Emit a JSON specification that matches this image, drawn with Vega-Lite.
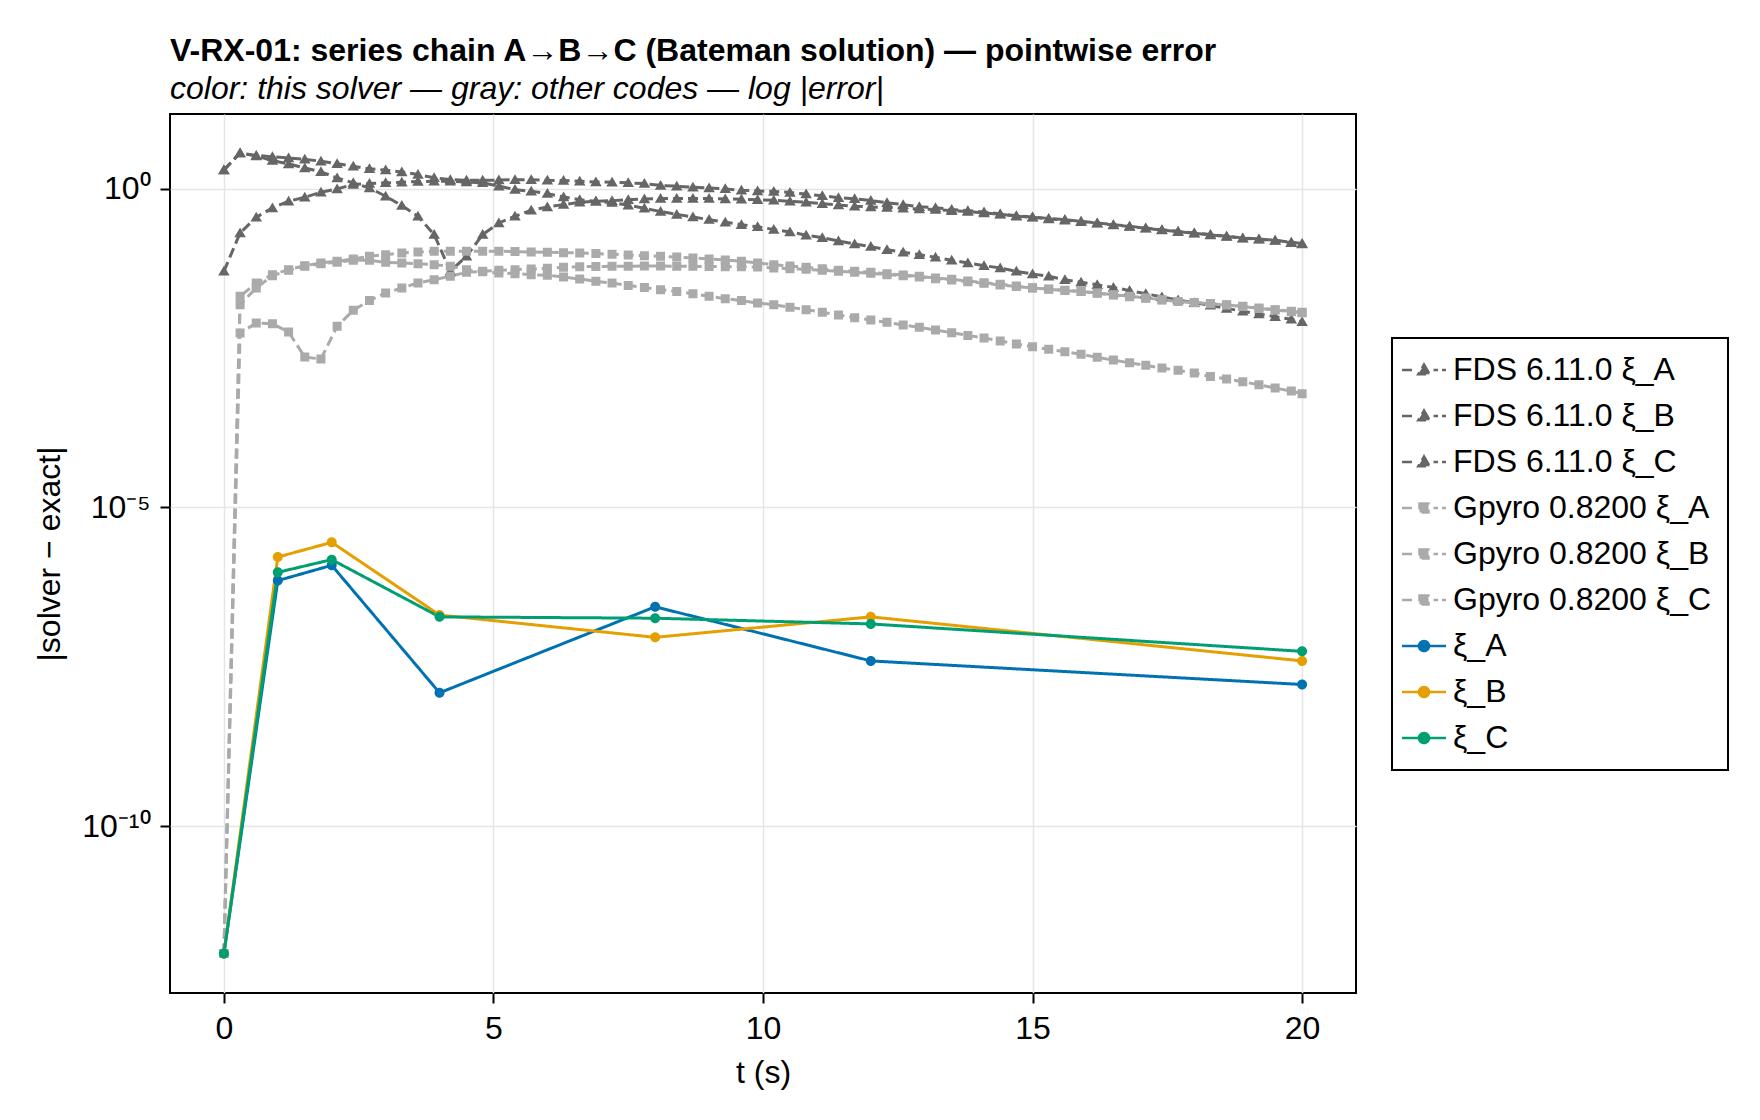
{
  "$schema": "https://vega.github.io/schema/vega-lite/v6.json",
  "width": 1186,
  "height": 879,
  "autosize": {"type": "none"},
  "padding": {"left": 170, "top": 114, "right": 404, "bottom": 127},
  "background": "white",
  "config": {
    "font": "Liberation Sans",
    "view": {"stroke": "black", "strokeWidth": 2},
    "axis": {
      "labelFont": "Liberation Sans", "labelFontSize": 32, "labelColor": "black",
      "titleFont": "Liberation Sans", "titleFontSize": 32, "titleFontWeight": "normal", "titleColor": "black",
      "domain": false, "tickColor": "black", "tickWidth": 2, "tickSize": 10,
      "gridColor": "#e5e5e5", "gridWidth": 1.5, "labelPadding": 10
    },
    "legend": {"strokeWidth": 2}
  },
  "title": {
    "text": "V-RX-01: series chain A→B→C (Bateman solution) — pointwise error",
    "subtitle": "color: this solver — gray: other codes — log |error|",
    "anchor": "start", "frame": "group",
    "font": "Liberation Sans", "fontSize": 32, "fontWeight": "bold", "color": "black",
    "subtitleFont": "Liberation Sans", "subtitleFontSize": 32, "subtitleFontStyle": "italic", "subtitleColor": "black",
    "subtitlePadding": 6, "offset": 8
  },
  "datasets": {
    "others": [
      {"series":"FDS 6.11.0 ξ_A","t":0,"err":1.95},{"series":"FDS 6.11.0 ξ_A","t":0.3,"err":3.63},{"series":"FDS 6.11.0 ξ_A","t":0.6,"err":3.31},{"series":"FDS 6.11.0 ξ_A","t":0.9,"err":3.16},{"series":"FDS 6.11.0 ξ_A","t":1.2,"err":3.02},{"series":"FDS 6.11.0 ξ_A","t":1.5,"err":2.88},{"series":"FDS 6.11.0 ξ_A","t":1.8,"err":2.69},{"series":"FDS 6.11.0 ξ_A","t":2.1,"err":2.45},{"series":"FDS 6.11.0 ξ_A","t":2.4,"err":2.24},{"series":"FDS 6.11.0 ξ_A","t":2.7,"err":2.04},
      {"series":"FDS 6.11.0 ξ_A","t":3,"err":1.95},{"series":"FDS 6.11.0 ξ_A","t":3.3,"err":1.82},{"series":"FDS 6.11.0 ξ_A","t":3.6,"err":1.66},{"series":"FDS 6.11.0 ξ_A","t":3.9,"err":1.48},{"series":"FDS 6.11.0 ξ_A","t":4.2,"err":1.38},{"series":"FDS 6.11.0 ξ_A","t":4.5,"err":1.35},{"series":"FDS 6.11.0 ξ_A","t":4.8,"err":1.35},{"series":"FDS 6.11.0 ξ_A","t":5.1,"err":1.36},{"series":"FDS 6.11.0 ξ_A","t":5.4,"err":1.38},{"series":"FDS 6.11.0 ξ_A","t":5.7,"err":1.38},
      {"series":"FDS 6.11.0 ξ_A","t":6,"err":1.35},{"series":"FDS 6.11.0 ξ_A","t":6.3,"err":1.34},{"series":"FDS 6.11.0 ξ_A","t":6.6,"err":1.30},{"series":"FDS 6.11.0 ξ_A","t":6.9,"err":1.27},{"series":"FDS 6.11.0 ξ_A","t":7.2,"err":1.26},{"series":"FDS 6.11.0 ξ_A","t":7.5,"err":1.23},{"series":"FDS 6.11.0 ξ_A","t":7.8,"err":1.20},{"series":"FDS 6.11.0 ξ_A","t":8.1,"err":1.12},{"series":"FDS 6.11.0 ξ_A","t":8.4,"err":1.09},{"series":"FDS 6.11.0 ξ_A","t":8.7,"err":1.05},
      {"series":"FDS 6.11.0 ξ_A","t":9,"err":1.02},{"series":"FDS 6.11.0 ξ_A","t":9.3,"err":0.99},{"series":"FDS 6.11.0 ξ_A","t":9.6,"err":0.94},{"series":"FDS 6.11.0 ξ_A","t":9.9,"err":0.92},{"series":"FDS 6.11.0 ξ_A","t":10.2,"err":0.90},{"series":"FDS 6.11.0 ξ_A","t":10.5,"err":0.87},{"series":"FDS 6.11.0 ξ_A","t":10.8,"err":0.82},{"series":"FDS 6.11.0 ξ_A","t":11.1,"err":0.77},{"series":"FDS 6.11.0 ξ_A","t":11.4,"err":0.72},{"series":"FDS 6.11.0 ξ_A","t":11.7,"err":0.69},
      {"series":"FDS 6.11.0 ξ_A","t":12,"err":0.65},{"series":"FDS 6.11.0 ξ_A","t":12.3,"err":0.60},{"series":"FDS 6.11.0 ξ_A","t":12.6,"err":0.56},{"series":"FDS 6.11.0 ξ_A","t":12.9,"err":0.52},{"series":"FDS 6.11.0 ξ_A","t":13.2,"err":0.50},{"series":"FDS 6.11.0 ξ_A","t":13.5,"err":0.47},{"series":"FDS 6.11.0 ξ_A","t":13.8,"err":0.45},{"series":"FDS 6.11.0 ξ_A","t":14.1,"err":0.43},{"series":"FDS 6.11.0 ξ_A","t":14.4,"err":0.40},{"series":"FDS 6.11.0 ξ_A","t":14.7,"err":0.376},
      {"series":"FDS 6.11.0 ξ_A","t":15,"err":0.36},{"series":"FDS 6.11.0 ξ_A","t":15.3,"err":0.34},{"series":"FDS 6.11.0 ξ_A","t":15.6,"err":0.326},{"series":"FDS 6.11.0 ξ_A","t":15.9,"err":0.307},{"series":"FDS 6.11.0 ξ_A","t":16.2,"err":0.289},{"series":"FDS 6.11.0 ξ_A","t":16.5,"err":0.272},{"series":"FDS 6.11.0 ξ_A","t":16.8,"err":0.256},{"series":"FDS 6.11.0 ξ_A","t":17.1,"err":0.241},{"series":"FDS 6.11.0 ξ_A","t":17.4,"err":0.227},{"series":"FDS 6.11.0 ξ_A","t":17.7,"err":0.214},
      {"series":"FDS 6.11.0 ξ_A","t":18,"err":0.201},{"series":"FDS 6.11.0 ξ_A","t":18.3,"err":0.190},{"series":"FDS 6.11.0 ξ_A","t":18.6,"err":0.179},{"series":"FDS 6.11.0 ξ_A","t":18.9,"err":0.168},{"series":"FDS 6.11.0 ξ_A","t":19.2,"err":0.162},{"series":"FDS 6.11.0 ξ_A","t":19.5,"err":0.155},{"series":"FDS 6.11.0 ξ_A","t":19.8,"err":0.144},{"series":"FDS 6.11.0 ξ_A","t":20,"err":0.137},

      {"series":"FDS 6.11.0 ξ_B","t":0,"err":1.95},{"series":"FDS 6.11.0 ξ_B","t":0.3,"err":3.63},{"series":"FDS 6.11.0 ξ_B","t":0.6,"err":3.24},{"series":"FDS 6.11.0 ξ_B","t":0.9,"err":2.75},{"series":"FDS 6.11.0 ξ_B","t":1.2,"err":2.44},{"series":"FDS 6.11.0 ξ_B","t":1.5,"err":2.11},{"series":"FDS 6.11.0 ξ_B","t":1.8,"err":1.83},{"series":"FDS 6.11.0 ξ_B","t":2.1,"err":1.47},{"series":"FDS 6.11.0 ξ_B","t":2.4,"err":1.23},{"series":"FDS 6.11.0 ξ_B","t":2.7,"err":1.02},
      {"series":"FDS 6.11.0 ξ_B","t":3,"err":0.76},{"series":"FDS 6.11.0 ξ_B","t":3.3,"err":0.541},{"series":"FDS 6.11.0 ξ_B","t":3.6,"err":0.368},{"series":"FDS 6.11.0 ξ_B","t":3.9,"err":0.190},{"series":"FDS 6.11.0 ξ_B","t":4.2,"err":0.0504},{"series":"FDS 6.11.0 ξ_B","t":4.5,"err":0.0871},{"series":"FDS 6.11.0 ξ_B","t":4.8,"err":0.190},{"series":"FDS 6.11.0 ξ_B","t":5.1,"err":0.289},{"series":"FDS 6.11.0 ξ_B","t":5.4,"err":0.368},{"series":"FDS 6.11.0 ξ_B","t":5.7,"err":0.457},
      {"series":"FDS 6.11.0 ξ_B","t":6,"err":0.515},{"series":"FDS 6.11.0 ξ_B","t":6.3,"err":0.561},{"series":"FDS 6.11.0 ξ_B","t":6.6,"err":0.610},{"series":"FDS 6.11.0 ξ_B","t":6.9,"err":0.632},{"series":"FDS 6.11.0 ξ_B","t":7.2,"err":0.646},{"series":"FDS 6.11.0 ξ_B","t":7.5,"err":0.671},{"series":"FDS 6.11.0 ξ_B","t":7.8,"err":0.689},{"series":"FDS 6.11.0 ξ_B","t":8.1,"err":0.697},{"series":"FDS 6.11.0 ξ_B","t":8.4,"err":0.697},{"series":"FDS 6.11.0 ξ_B","t":8.7,"err":0.697},
      {"series":"FDS 6.11.0 ξ_B","t":9,"err":0.697},{"series":"FDS 6.11.0 ξ_B","t":9.3,"err":0.689},{"series":"FDS 6.11.0 ξ_B","t":9.6,"err":0.679},{"series":"FDS 6.11.0 ξ_B","t":9.9,"err":0.668},{"series":"FDS 6.11.0 ξ_B","t":10.2,"err":0.656},{"series":"FDS 6.11.0 ξ_B","t":10.5,"err":0.632},{"series":"FDS 6.11.0 ξ_B","t":10.8,"err":0.610},{"series":"FDS 6.11.0 ξ_B","t":11.1,"err":0.581},{"series":"FDS 6.11.0 ξ_B","t":11.4,"err":0.555},{"series":"FDS 6.11.0 ξ_B","t":11.7,"err":0.528},
      {"series":"FDS 6.11.0 ξ_B","t":12,"err":0.515},{"series":"FDS 6.11.0 ξ_B","t":12.3,"err":0.504},{"series":"FDS 6.11.0 ξ_B","t":12.6,"err":0.491},{"series":"FDS 6.11.0 ξ_B","t":12.9,"err":0.480},{"series":"FDS 6.11.0 ξ_B","t":13.2,"err":0.468},{"series":"FDS 6.11.0 ξ_B","t":13.5,"err":0.451},{"series":"FDS 6.11.0 ξ_B","t":13.8,"err":0.436},{"series":"FDS 6.11.0 ξ_B","t":14.1,"err":0.415},{"series":"FDS 6.11.0 ξ_B","t":14.4,"err":0.395},{"series":"FDS 6.11.0 ξ_B","t":14.7,"err":0.368},
      {"series":"FDS 6.11.0 ξ_B","t":15,"err":0.355},{"series":"FDS 6.11.0 ξ_B","t":15.3,"err":0.334},{"series":"FDS 6.11.0 ξ_B","t":15.6,"err":0.320},{"series":"FDS 6.11.0 ξ_B","t":15.9,"err":0.302},{"series":"FDS 6.11.0 ξ_B","t":16.2,"err":0.285},{"series":"FDS 6.11.0 ξ_B","t":16.5,"err":0.269},{"series":"FDS 6.11.0 ξ_B","t":16.8,"err":0.254},{"series":"FDS 6.11.0 ξ_B","t":17.1,"err":0.238},{"series":"FDS 6.11.0 ξ_B","t":17.4,"err":0.224},{"series":"FDS 6.11.0 ξ_B","t":17.7,"err":0.211},
      {"series":"FDS 6.11.0 ξ_B","t":18,"err":0.200},{"series":"FDS 6.11.0 ξ_B","t":18.3,"err":0.187},{"series":"FDS 6.11.0 ξ_B","t":18.6,"err":0.177},{"series":"FDS 6.11.0 ξ_B","t":18.9,"err":0.166},{"series":"FDS 6.11.0 ξ_B","t":19.2,"err":0.160},{"series":"FDS 6.11.0 ξ_B","t":19.5,"err":0.153},{"series":"FDS 6.11.0 ξ_B","t":19.8,"err":0.142},{"series":"FDS 6.11.0 ξ_B","t":20,"err":0.135},

      {"series":"FDS 6.11.0 ξ_C","t":0,"err":0.0504},{"series":"FDS 6.11.0 ξ_C","t":0.3,"err":0.201},{"series":"FDS 6.11.0 ξ_C","t":0.6,"err":0.355},{"series":"FDS 6.11.0 ξ_C","t":0.9,"err":0.497},{"series":"FDS 6.11.0 ξ_C","t":1.2,"err":0.632},{"series":"FDS 6.11.0 ξ_C","t":1.5,"err":0.731},{"series":"FDS 6.11.0 ξ_C","t":1.8,"err":0.875},{"series":"FDS 6.11.0 ξ_C","t":2.1,"err":0.989},{"series":"FDS 6.11.0 ξ_C","t":2.4,"err":1.156},{"series":"FDS 6.11.0 ξ_C","t":2.7,"err":1.20},
      {"series":"FDS 6.11.0 ξ_C","t":3,"err":1.23},{"series":"FDS 6.11.0 ξ_C","t":3.3,"err":1.26},{"series":"FDS 6.11.0 ξ_C","t":3.6,"err":1.29},{"series":"FDS 6.11.0 ξ_C","t":3.9,"err":1.30},{"series":"FDS 6.11.0 ξ_C","t":4.2,"err":1.30},{"series":"FDS 6.11.0 ξ_C","t":4.5,"err":1.27},{"series":"FDS 6.11.0 ξ_C","t":4.8,"err":1.23},{"series":"FDS 6.11.0 ξ_C","t":5.1,"err":1.09},{"series":"FDS 6.11.0 ξ_C","t":5.4,"err":0.964},{"series":"FDS 6.11.0 ξ_C","t":5.7,"err":0.908},
      {"series":"FDS 6.11.0 ξ_C","t":6,"err":0.834},{"series":"FDS 6.11.0 ξ_C","t":6.3,"err":0.740},{"series":"FDS 6.11.0 ξ_C","t":6.6,"err":0.671},{"series":"FDS 6.11.0 ξ_C","t":6.9,"err":0.632},{"series":"FDS 6.11.0 ξ_C","t":7.2,"err":0.603},{"series":"FDS 6.11.0 ξ_C","t":7.5,"err":0.550},{"series":"FDS 6.11.0 ξ_C","t":7.8,"err":0.490},{"series":"FDS 6.11.0 ξ_C","t":8.1,"err":0.437},{"series":"FDS 6.11.0 ξ_C","t":8.4,"err":0.394},{"series":"FDS 6.11.0 ξ_C","t":8.7,"err":0.359},
      {"series":"FDS 6.11.0 ξ_C","t":9,"err":0.326},{"series":"FDS 6.11.0 ξ_C","t":9.3,"err":0.296},{"series":"FDS 6.11.0 ξ_C","t":9.6,"err":0.272},{"series":"FDS 6.11.0 ξ_C","t":9.9,"err":0.251},{"series":"FDS 6.11.0 ξ_C","t":10.2,"err":0.229},{"series":"FDS 6.11.0 ξ_C","t":10.5,"err":0.209},{"series":"FDS 6.11.0 ξ_C","t":10.8,"err":0.186},{"series":"FDS 6.11.0 ξ_C","t":11.1,"err":0.170},{"series":"FDS 6.11.0 ξ_C","t":11.4,"err":0.151},{"series":"FDS 6.11.0 ξ_C","t":11.7,"err":0.135},
      {"series":"FDS 6.11.0 ξ_C","t":12,"err":0.123},{"series":"FDS 6.11.0 ξ_C","t":12.3,"err":0.110},{"series":"FDS 6.11.0 ξ_C","t":12.6,"err":0.100},{"series":"FDS 6.11.0 ξ_C","t":12.9,"err":0.0920},{"series":"FDS 6.11.0 ξ_C","t":13.2,"err":0.0836},{"series":"FDS 6.11.0 ξ_C","t":13.5,"err":0.0750},{"series":"FDS 6.11.0 ξ_C","t":13.8,"err":0.0681},{"series":"FDS 6.11.0 ξ_C","t":14.1,"err":0.0618},{"series":"FDS 6.11.0 ξ_C","t":14.4,"err":0.0568},{"series":"FDS 6.11.0 ξ_C","t":14.7,"err":0.0504},
      {"series":"FDS 6.11.0 ξ_C","t":15,"err":0.0457},{"series":"FDS 6.11.0 ξ_C","t":15.3,"err":0.0421},{"series":"FDS 6.11.0 ξ_C","t":15.6,"err":0.0372},{"series":"FDS 6.11.0 ξ_C","t":15.9,"err":0.0339},{"series":"FDS 6.11.0 ξ_C","t":16.2,"err":0.0309},{"series":"FDS 6.11.0 ξ_C","t":16.5,"err":0.0282},{"series":"FDS 6.11.0 ξ_C","t":16.8,"err":0.0251},{"series":"FDS 6.11.0 ξ_C","t":17.1,"err":0.0224},{"series":"FDS 6.11.0 ξ_C","t":17.4,"err":0.0200},{"series":"FDS 6.11.0 ξ_C","t":17.7,"err":0.0178},
      {"series":"FDS 6.11.0 ξ_C","t":18,"err":0.0162},{"series":"FDS 6.11.0 ξ_C","t":18.3,"err":0.0148},{"series":"FDS 6.11.0 ξ_C","t":18.6,"err":0.0132},{"series":"FDS 6.11.0 ξ_C","t":18.9,"err":0.0119},{"series":"FDS 6.11.0 ξ_C","t":19.2,"err":0.0108},{"series":"FDS 6.11.0 ξ_C","t":19.5,"err":0.00977},{"series":"FDS 6.11.0 ξ_C","t":19.8,"err":0.00891},{"series":"FDS 6.11.0 ξ_C","t":20,"err":0.00813},

      {"series":"Gpyro 0.8200 ξ_A","t":0,"err":1e-12},{"series":"Gpyro 0.8200 ξ_A","t":0.3,"err":0.0204},{"series":"Gpyro 0.8200 ξ_A","t":0.6,"err":0.0330},{"series":"Gpyro 0.8200 ξ_A","t":0.9,"err":0.0447},{"series":"Gpyro 0.8200 ξ_A","t":1.2,"err":0.0535},{"series":"Gpyro 0.8200 ξ_A","t":1.5,"err":0.0618},{"series":"Gpyro 0.8200 ξ_A","t":1.8,"err":0.0681},{"series":"Gpyro 0.8200 ξ_A","t":2.1,"err":0.0723},{"series":"Gpyro 0.8200 ξ_A","t":2.4,"err":0.0787},{"series":"Gpyro 0.8200 ξ_A","t":2.7,"err":0.0867},
      {"series":"Gpyro 0.8200 ξ_A","t":3,"err":0.0920},{"series":"Gpyro 0.8200 ξ_A","t":3.3,"err":0.0977},{"series":"Gpyro 0.8200 ξ_A","t":3.6,"err":0.101},{"series":"Gpyro 0.8200 ξ_A","t":3.9,"err":0.104},{"series":"Gpyro 0.8200 ξ_A","t":4.2,"err":0.104},{"series":"Gpyro 0.8200 ξ_A","t":4.5,"err":0.104},{"series":"Gpyro 0.8200 ξ_A","t":4.8,"err":0.104},{"series":"Gpyro 0.8200 ξ_A","t":5.1,"err":0.104},{"series":"Gpyro 0.8200 ξ_A","t":5.4,"err":0.103},{"series":"Gpyro 0.8200 ξ_A","t":5.7,"err":0.101},
      {"series":"Gpyro 0.8200 ξ_A","t":6,"err":0.100},{"series":"Gpyro 0.8200 ξ_A","t":6.3,"err":0.0989},{"series":"Gpyro 0.8200 ξ_A","t":6.6,"err":0.0977},{"series":"Gpyro 0.8200 ξ_A","t":6.9,"err":0.0955},{"series":"Gpyro 0.8200 ξ_A","t":7.2,"err":0.0931},{"series":"Gpyro 0.8200 ξ_A","t":7.5,"err":0.0910},{"series":"Gpyro 0.8200 ξ_A","t":7.8,"err":0.0887},{"series":"Gpyro 0.8200 ξ_A","t":8.1,"err":0.0867},{"series":"Gpyro 0.8200 ξ_A","t":8.4,"err":0.0845},{"series":"Gpyro 0.8200 ξ_A","t":8.7,"err":0.0817},
      {"series":"Gpyro 0.8200 ξ_A","t":9,"err":0.0787},{"series":"Gpyro 0.8200 ξ_A","t":9.3,"err":0.0759},{"series":"Gpyro 0.8200 ξ_A","t":9.6,"err":0.0723},{"series":"Gpyro 0.8200 ξ_A","t":9.9,"err":0.0681},{"series":"Gpyro 0.8200 ξ_A","t":10.2,"err":0.0641},{"series":"Gpyro 0.8200 ξ_A","t":10.5,"err":0.0611},{"series":"Gpyro 0.8200 ξ_A","t":10.8,"err":0.0582},{"series":"Gpyro 0.8200 ξ_A","t":11.1,"err":0.0555},{"series":"Gpyro 0.8200 ξ_A","t":11.4,"err":0.0522},{"series":"Gpyro 0.8200 ξ_A","t":11.7,"err":0.0504},
      {"series":"Gpyro 0.8200 ξ_A","t":12,"err":0.0486},{"series":"Gpyro 0.8200 ξ_A","t":12.3,"err":0.0463},{"series":"Gpyro 0.8200 ξ_A","t":12.6,"err":0.0442},{"series":"Gpyro 0.8200 ξ_A","t":12.9,"err":0.0421},{"series":"Gpyro 0.8200 ξ_A","t":13.2,"err":0.0396},{"series":"Gpyro 0.8200 ξ_A","t":13.5,"err":0.0378},{"series":"Gpyro 0.8200 ξ_A","t":13.8,"err":0.0356},{"series":"Gpyro 0.8200 ξ_A","t":14.1,"err":0.0334},{"series":"Gpyro 0.8200 ξ_A","t":14.4,"err":0.0315},{"series":"Gpyro 0.8200 ξ_A","t":14.7,"err":0.0296},
      {"series":"Gpyro 0.8200 ξ_A","t":15,"err":0.0279},{"series":"Gpyro 0.8200 ξ_A","t":15.3,"err":0.0266},{"series":"Gpyro 0.8200 ξ_A","t":15.6,"err":0.0254},{"series":"Gpyro 0.8200 ξ_A","t":15.9,"err":0.0244},{"series":"Gpyro 0.8200 ξ_A","t":16.2,"err":0.0230},{"series":"Gpyro 0.8200 ξ_A","t":16.5,"err":0.0217},{"series":"Gpyro 0.8200 ξ_A","t":16.8,"err":0.0204},{"series":"Gpyro 0.8200 ξ_A","t":17.1,"err":0.0192},{"series":"Gpyro 0.8200 ξ_A","t":17.4,"err":0.0181},{"series":"Gpyro 0.8200 ξ_A","t":17.7,"err":0.0170},
      {"series":"Gpyro 0.8200 ξ_A","t":18,"err":0.0164},{"series":"Gpyro 0.8200 ξ_A","t":18.3,"err":0.0158},{"series":"Gpyro 0.8200 ξ_A","t":18.6,"err":0.0151},{"series":"Gpyro 0.8200 ξ_A","t":18.9,"err":0.0142},{"series":"Gpyro 0.8200 ξ_A","t":19.2,"err":0.0134},{"series":"Gpyro 0.8200 ξ_A","t":19.5,"err":0.0126},{"series":"Gpyro 0.8200 ξ_A","t":19.8,"err":0.0119},{"series":"Gpyro 0.8200 ξ_A","t":20,"err":0.0115},

      {"series":"Gpyro 0.8200 ξ_B","t":0,"err":1e-12},{"series":"Gpyro 0.8200 ξ_B","t":0.3,"err":0.0151},{"series":"Gpyro 0.8200 ξ_B","t":0.6,"err":0.0276},{"series":"Gpyro 0.8200 ξ_B","t":0.9,"err":0.0431},{"series":"Gpyro 0.8200 ξ_B","t":1.2,"err":0.0522},{"series":"Gpyro 0.8200 ξ_B","t":1.5,"err":0.0604},{"series":"Gpyro 0.8200 ξ_B","t":1.8,"err":0.0664},{"series":"Gpyro 0.8200 ξ_B","t":2.1,"err":0.0697},{"series":"Gpyro 0.8200 ξ_B","t":2.4,"err":0.0750},{"series":"Gpyro 0.8200 ξ_B","t":2.7,"err":0.0750},
      {"series":"Gpyro 0.8200 ξ_B","t":3,"err":0.0697},{"series":"Gpyro 0.8200 ξ_B","t":3.3,"err":0.0681},{"series":"Gpyro 0.8200 ξ_B","t":3.6,"err":0.0664},{"series":"Gpyro 0.8200 ξ_B","t":3.9,"err":0.0641},{"series":"Gpyro 0.8200 ξ_B","t":4.2,"err":0.0604},{"series":"Gpyro 0.8200 ξ_B","t":4.5,"err":0.0535},{"series":"Gpyro 0.8200 ξ_B","t":4.8,"err":0.0498},{"series":"Gpyro 0.8200 ξ_B","t":5.1,"err":0.0474},{"series":"Gpyro 0.8200 ξ_B","t":5.4,"err":0.0463},{"series":"Gpyro 0.8200 ξ_B","t":5.7,"err":0.0447},
      {"series":"Gpyro 0.8200 ξ_B","t":6,"err":0.0436},{"series":"Gpyro 0.8200 ξ_B","t":6.3,"err":0.0410},{"series":"Gpyro 0.8200 ξ_B","t":6.6,"err":0.0382},{"series":"Gpyro 0.8200 ξ_B","t":6.9,"err":0.0351},{"series":"Gpyro 0.8200 ξ_B","t":7.2,"err":0.0330},{"series":"Gpyro 0.8200 ξ_B","t":7.5,"err":0.0303},{"series":"Gpyro 0.8200 ξ_B","t":7.8,"err":0.0282},{"series":"Gpyro 0.8200 ξ_B","t":8.1,"err":0.0259},{"series":"Gpyro 0.8200 ξ_B","t":8.4,"err":0.0244},{"series":"Gpyro 0.8200 ξ_B","t":8.7,"err":0.0225},
      {"series":"Gpyro 0.8200 ξ_B","t":9,"err":0.0204},{"series":"Gpyro 0.8200 ξ_B","t":9.3,"err":0.0187},{"series":"Gpyro 0.8200 ξ_B","t":9.6,"err":0.0175},{"series":"Gpyro 0.8200 ξ_B","t":9.9,"err":0.0160},{"series":"Gpyro 0.8200 ξ_B","t":10.2,"err":0.0151},{"series":"Gpyro 0.8200 ξ_B","t":10.5,"err":0.0137},{"series":"Gpyro 0.8200 ξ_B","t":10.8,"err":0.0126},{"series":"Gpyro 0.8200 ξ_B","t":11.1,"err":0.0115},{"series":"Gpyro 0.8200 ξ_B","t":11.4,"err":0.0104},{"series":"Gpyro 0.8200 ξ_B","t":11.7,"err":0.00944},
      {"series":"Gpyro 0.8200 ξ_B","t":12,"err":0.00867},{"series":"Gpyro 0.8200 ξ_B","t":12.3,"err":0.00798},{"series":"Gpyro 0.8200 ξ_B","t":12.6,"err":0.00724},{"series":"Gpyro 0.8200 ξ_B","t":12.9,"err":0.00665},{"series":"Gpyro 0.8200 ξ_B","t":13.2,"err":0.00604},{"series":"Gpyro 0.8200 ξ_B","t":13.5,"err":0.00548},{"series":"Gpyro 0.8200 ξ_B","t":13.8,"err":0.00498},{"series":"Gpyro 0.8200 ξ_B","t":14.1,"err":0.00453},{"series":"Gpyro 0.8200 ξ_B","t":14.4,"err":0.00406},{"series":"Gpyro 0.8200 ξ_B","t":14.7,"err":0.00364},
      {"series":"Gpyro 0.8200 ξ_B","t":15,"err":0.00331},{"series":"Gpyro 0.8200 ξ_B","t":15.3,"err":0.00301},{"series":"Gpyro 0.8200 ξ_B","t":15.6,"err":0.00276},{"series":"Gpyro 0.8200 ξ_B","t":15.9,"err":0.00251},{"series":"Gpyro 0.8200 ξ_B","t":16.2,"err":0.00225},{"series":"Gpyro 0.8200 ξ_B","t":16.5,"err":0.00204},{"series":"Gpyro 0.8200 ξ_B","t":16.8,"err":0.00185},{"series":"Gpyro 0.8200 ξ_B","t":17.1,"err":0.00169},{"series":"Gpyro 0.8200 ξ_B","t":17.4,"err":0.00153},{"series":"Gpyro 0.8200 ξ_B","t":17.7,"err":0.00141},
      {"series":"Gpyro 0.8200 ξ_B","t":18,"err":0.00128},{"series":"Gpyro 0.8200 ξ_B","t":18.3,"err":0.00113},{"series":"Gpyro 0.8200 ξ_B","t":18.6,"err":0.00103},{"series":"Gpyro 0.8200 ξ_B","t":18.9,"err":0.000933},{"series":"Gpyro 0.8200 ξ_B","t":19.2,"err":0.000838},{"series":"Gpyro 0.8200 ξ_B","t":19.5,"err":0.000743},{"series":"Gpyro 0.8200 ξ_B","t":19.8,"err":0.000667},{"series":"Gpyro 0.8200 ξ_B","t":20,"err":0.000605},

      {"series":"Gpyro 0.8200 ξ_C","t":0,"err":1e-12},{"series":"Gpyro 0.8200 ξ_C","t":0.3,"err":0.00542},{"series":"Gpyro 0.8200 ξ_C","t":0.6,"err":0.00778},{"series":"Gpyro 0.8200 ξ_C","t":0.9,"err":0.00760},{"series":"Gpyro 0.8200 ξ_C","t":1.2,"err":0.00562},{"series":"Gpyro 0.8200 ξ_C","t":1.5,"err":0.00228},{"series":"Gpyro 0.8200 ξ_C","t":1.8,"err":0.00212},{"series":"Gpyro 0.8200 ξ_C","t":2.1,"err":0.00690},{"series":"Gpyro 0.8200 ξ_C","t":2.4,"err":0.0123},{"series":"Gpyro 0.8200 ξ_C","t":2.7,"err":0.0175},
      {"series":"Gpyro 0.8200 ξ_C","t":3,"err":0.0230},{"series":"Gpyro 0.8200 ξ_C","t":3.3,"err":0.0276},{"series":"Gpyro 0.8200 ξ_C","t":3.6,"err":0.0330},{"series":"Gpyro 0.8200 ξ_C","t":3.9,"err":0.0372},{"series":"Gpyro 0.8200 ξ_C","t":4.2,"err":0.0421},{"series":"Gpyro 0.8200 ξ_C","t":4.5,"err":0.0486},{"series":"Gpyro 0.8200 ξ_C","t":4.8,"err":0.0504},{"series":"Gpyro 0.8200 ξ_C","t":5.1,"err":0.0522},{"series":"Gpyro 0.8200 ξ_C","t":5.4,"err":0.0535},{"series":"Gpyro 0.8200 ξ_C","t":5.7,"err":0.0548},
      {"series":"Gpyro 0.8200 ξ_C","t":6,"err":0.0561},{"series":"Gpyro 0.8200 ξ_C","t":6.3,"err":0.0582},{"series":"Gpyro 0.8200 ξ_C","t":6.6,"err":0.0596},{"series":"Gpyro 0.8200 ξ_C","t":6.9,"err":0.0600},{"series":"Gpyro 0.8200 ξ_C","t":7.2,"err":0.0604},{"series":"Gpyro 0.8200 ξ_C","t":7.5,"err":0.0607},{"series":"Gpyro 0.8200 ξ_C","t":7.8,"err":0.0609},{"series":"Gpyro 0.8200 ξ_C","t":8.1,"err":0.0609},{"series":"Gpyro 0.8200 ξ_C","t":8.4,"err":0.0607},{"series":"Gpyro 0.8200 ξ_C","t":8.7,"err":0.0604},
      {"series":"Gpyro 0.8200 ξ_C","t":9,"err":0.0600},{"series":"Gpyro 0.8200 ξ_C","t":9.3,"err":0.0596},{"series":"Gpyro 0.8200 ξ_C","t":9.6,"err":0.0592},{"series":"Gpyro 0.8200 ξ_C","t":9.9,"err":0.0589},{"series":"Gpyro 0.8200 ξ_C","t":10.2,"err":0.0569},{"series":"Gpyro 0.8200 ξ_C","t":10.5,"err":0.0555},{"series":"Gpyro 0.8200 ξ_C","t":10.8,"err":0.0542},{"series":"Gpyro 0.8200 ξ_C","t":11.1,"err":0.0522},{"series":"Gpyro 0.8200 ξ_C","t":11.4,"err":0.0504},{"series":"Gpyro 0.8200 ξ_C","t":11.7,"err":0.0486},
      {"series":"Gpyro 0.8200 ξ_C","t":12,"err":0.0469},{"series":"Gpyro 0.8200 ξ_C","t":12.3,"err":0.0447},{"series":"Gpyro 0.8200 ξ_C","t":12.6,"err":0.0431},{"series":"Gpyro 0.8200 ξ_C","t":12.9,"err":0.0410},{"series":"Gpyro 0.8200 ξ_C","t":13.2,"err":0.0386},{"series":"Gpyro 0.8200 ξ_C","t":13.5,"err":0.0368},{"series":"Gpyro 0.8200 ξ_C","t":13.8,"err":0.0347},{"series":"Gpyro 0.8200 ξ_C","t":14.1,"err":0.0327},{"series":"Gpyro 0.8200 ξ_C","t":14.4,"err":0.0308},{"series":"Gpyro 0.8200 ξ_C","t":14.7,"err":0.0290},
      {"series":"Gpyro 0.8200 ξ_C","t":15,"err":0.0276},{"series":"Gpyro 0.8200 ξ_C","t":15.3,"err":0.0263},{"series":"Gpyro 0.8200 ξ_C","t":15.6,"err":0.0251},{"series":"Gpyro 0.8200 ξ_C","t":15.9,"err":0.0242},{"series":"Gpyro 0.8200 ξ_C","t":16.2,"err":0.0228},{"series":"Gpyro 0.8200 ξ_C","t":16.5,"err":0.0214},{"series":"Gpyro 0.8200 ξ_C","t":16.8,"err":0.0201},{"series":"Gpyro 0.8200 ξ_C","t":17.1,"err":0.0190},{"series":"Gpyro 0.8200 ξ_C","t":17.4,"err":0.0179},{"series":"Gpyro 0.8200 ξ_C","t":17.7,"err":0.0170},
      {"series":"Gpyro 0.8200 ξ_C","t":18,"err":0.0162},{"series":"Gpyro 0.8200 ξ_C","t":18.3,"err":0.0156},{"series":"Gpyro 0.8200 ξ_C","t":18.6,"err":0.0149},{"series":"Gpyro 0.8200 ξ_C","t":18.9,"err":0.0141},{"series":"Gpyro 0.8200 ξ_C","t":19.2,"err":0.0132},{"series":"Gpyro 0.8200 ξ_C","t":19.5,"err":0.0124},{"series":"Gpyro 0.8200 ξ_C","t":19.8,"err":0.0117},{"series":"Gpyro 0.8200 ξ_C","t":20,"err":0.0113}
    ],
    "solver": [
      {"series":"ξ_A","t":0,"err":1e-12},{"series":"ξ_A","t":1,"err":7.08e-7},{"series":"ξ_A","t":2,"err":1.23e-6},{"series":"ξ_A","t":4,"err":1.23e-8},{"series":"ξ_A","t":8,"err":2.75e-7},{"series":"ξ_A","t":12,"err":3.89e-8},{"series":"ξ_A","t":20,"err":1.66e-8},
      {"series":"ξ_B","t":0,"err":1e-12},{"series":"ξ_B","t":1,"err":1.66e-6},{"series":"ξ_B","t":2,"err":2.82e-6},{"series":"ξ_B","t":4,"err":2.04e-7},{"series":"ξ_B","t":8,"err":9.12e-8},{"series":"ξ_B","t":12,"err":1.91e-7},{"series":"ξ_B","t":20,"err":3.89e-8},
      {"series":"ξ_C","t":0,"err":1e-12},{"series":"ξ_C","t":1,"err":9.55e-7},{"series":"ξ_C","t":2,"err":1.51e-6},{"series":"ξ_C","t":4,"err":1.91e-7},{"series":"ξ_C","t":8,"err":1.82e-7},{"series":"ξ_C","t":12,"err":1.48e-7},{"series":"ξ_C","t":20,"err":5.50e-8}
    ]
  },
  "encoding": {
    "x": {"field": "t", "type": "quantitative",
      "scale": {"domain": [-1, 21], "nice": false, "zero": false},
      "axis": {"values": [0, 5, 10, 15, 20], "title": "t (s)", "titlePadding": 13}},
    "y": {"field": "err", "type": "quantitative",
      "scale": {"type": "log", "domain": [2.4e-13, 14.8], "nice": false},
      "axis": {"values": [1e-10, 1e-5, 1], "labelExpr": "datum.value >= 0.5 ? '10⁰' : (datum.value >= 1e-7 ? '10⁻⁵' : '10⁻¹⁰')", "title": "|solver − exact|", "titlePadding": 15}}
  },
  "layer": [
    {
      "data": {"name": "others"},
      "mark": {"type": "line", "strokeWidth": 3},
      "encoding": {
        "color": {"field": "series", "type": "nominal",
          "scale": {"domain": ["FDS 6.11.0 ξ_A","FDS 6.11.0 ξ_B","FDS 6.11.0 ξ_C","Gpyro 0.8200 ξ_A","Gpyro 0.8200 ξ_B","Gpyro 0.8200 ξ_C","ξ_A","ξ_B","ξ_C"],
            "range": ["#666666","#666666","#666666","#aaaaaa","#aaaaaa","#aaaaaa","#0072b2","#e69f00","#009e73"]},
          "legend": {
            "title": null, "orient": "none", "legendX": 1222, "legendY": 224,
            "strokeColor": "black", "padding": 16, "rowPadding": 14,
            "labelFont": "Liberation Sans", "labelFontSize": 32, "labelColor": "black", "labelLimit": 0,
            "symbolSize": 100, "symbolOffset": 0, "labelOffset": 13,
            "encode": {"symbols": {"update": {
              "shape": {"scale": "shape", "field": "value"},
              "fill": {"scale": "color", "field": "value"},
              "stroke": {"scale": "color", "field": "value"},
              "strokeWidth": {"value": 2.5},
              "strokeDash": {"value": [1, 0]},
              "size": {"value": 100},
              "opacity": {"value": 1}
            }}}
          }},
        "strokeDash": {"field": "series", "type": "nominal",
          "scale": {"domain": ["FDS 6.11.0 ξ_A","FDS 6.11.0 ξ_B","FDS 6.11.0 ξ_C","Gpyro 0.8200 ξ_A","Gpyro 0.8200 ξ_B","Gpyro 0.8200 ξ_C","ξ_A","ξ_B","ξ_C"],
            "range": [[10,5],[10,5],[10,5],[10,5],[10,5],[10,5],[1,0],[1,0],[1,0]]},
          "legend": null}
      }
    },
    {
      "data": {"name": "others"},
      "mark": {"type": "point", "filled": true, "size": 100, "opacity": 1, "strokeWidth": 0},
      "encoding": {
        "color": {"field": "series", "type": "nominal"},
        "shape": {"field": "series", "type": "nominal",
          "scale": {"domain": ["FDS 6.11.0 ξ_A","FDS 6.11.0 ξ_B","FDS 6.11.0 ξ_C","Gpyro 0.8200 ξ_A","Gpyro 0.8200 ξ_B","Gpyro 0.8200 ξ_C","ξ_A","ξ_B","ξ_C"],
            "range": [
              "M-4.4,0H-2.4M0,-1.1L1.15,0.85L-1.15,0.85Z M1.9,0H2.8M3.6,0H4.4",
              "M-4.4,0H-2.4M0,-1.1L1.15,0.85L-1.15,0.85Z M1.9,0H2.8M3.6,0H4.4",
              "M-4.4,0H-2.4M0,-1.1L1.15,0.85L-1.15,0.85Z M1.9,0H2.8M3.6,0H4.4",
              "M-4.4,0H-2.4M-0.9,-0.9H0.9V0.9H-0.9Z M1.9,0H2.8M3.6,0H4.4",
              "M-4.4,0H-2.4M-0.9,-0.9H0.9V0.9H-0.9Z M1.9,0H2.8M3.6,0H4.4",
              "M-4.4,0H-2.4M-0.9,-0.9H0.9V0.9H-0.9Z M1.9,0H2.8M3.6,0H4.4",
              "M-4.4,0H4.4M1,0A1,1,0,1,1,-1,0A1,1,0,1,1,1,0Z",
              "M-4.4,0H4.4M1,0A1,1,0,1,1,-1,0A1,1,0,1,1,1,0Z",
              "M-4.4,0H4.4M1,0A1,1,0,1,1,-1,0A1,1,0,1,1,1,0Z"
            ]},
          "legend": null}
      }
    },
    {
      "data": {"name": "solver"},
      "mark": {"type": "line", "strokeWidth": 3},
      "encoding": {
        "color": {"field": "series", "type": "nominal"},
        "strokeDash": {"field": "series", "type": "nominal"}
      }
    },
    {
      "data": {"name": "solver"},
      "mark": {"type": "point", "filled": true, "size": 100, "opacity": 1, "strokeWidth": 0},
      "encoding": {
        "color": {"field": "series", "type": "nominal"},
        "shape": {"field": "series", "type": "nominal"}
      }
    }
  ]
}
